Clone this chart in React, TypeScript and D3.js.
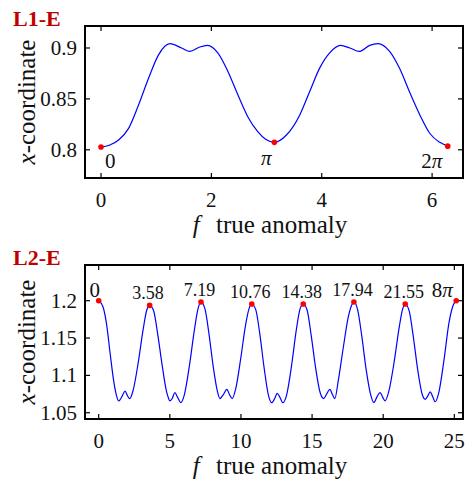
import React from "react";
import * as d3 from "d3";

// ---------- Data: panel L1-E ----------
const f1 = [0, 0.15, 0.32, 0.5, 0.68, 0.86, 1.04, 1.25, 1.46, 1.61, 1.79, 1.93, 2.12, 2.3, 2.48, 2.66, 2.84, 2.99, 3.14, 3.36, 3.6, 3.78, 3.96, 4.14, 4.34, 4.51, 4.68, 4.87, 5.02, 5.23, 5.41, 5.59, 5.78, 5.96, 6.14, 6.28];
const x1 = [0.8027, 0.8045, 0.8096, 0.821, 0.844, 0.87, 0.893, 0.9042, 0.9, 0.8966, 0.901, 0.9026, 0.895, 0.877, 0.854, 0.8325, 0.8178, 0.81, 0.8073, 0.8145, 0.834, 0.857, 0.88, 0.895, 0.9026, 0.9, 0.8966, 0.9026, 0.9042, 0.8966, 0.88, 0.857, 0.834, 0.816, 0.8073, 0.8036];
const mark1F = [0, Math.PI, 2 * Math.PI];
const mark1X = [0.8027, 0.8073, 0.8036];
const mark1Labels = ["0", "π", "2π"];
const xTicks1 = [0, 2, 4, 6];
const yTicks1 = [0.8, 0.85, 0.9];

// ---------- Data: panel L2-E ----------
const f2 = [
  0, 0.3, 0.55, 0.8, 1.05, 1.25, 1.41, 1.63, 1.85, 2.03, 2.18, 2.42, 2.77, 3.12, 3.38, 3.58,
  3.86, 4.15, 4.45, 4.75, 4.87, 5.0, 5.17, 5.35, 5.55, 5.77, 6.02, 6.37, 6.72, 6.98, 7.19,
  7.47, 7.75, 8.05, 8.33, 8.52, 8.75, 9.01, 9.2, 9.38, 9.63, 9.98, 10.33, 10.58, 10.76,
  11.04, 11.33, 11.63, 11.93, 12.17, 12.37, 12.55, 12.74, 12.95, 13.2, 13.55, 13.9, 14.17, 14.38,
  14.65, 14.95, 15.25, 15.58, 15.82, 16.05, 16.25, 16.44, 16.6, 16.85, 17.2, 17.55, 17.78, 17.94,
  18.2, 18.5, 18.8, 19.12, 19.34, 19.57, 19.78, 19.97, 20.13, 20.4, 20.77, 21.13, 21.37, 21.55,
  21.83, 22.13, 22.43, 22.75, 22.95, 23.13, 23.3, 23.48, 23.65, 23.92, 24.27, 24.62, 24.9, 25.13,
];
const x2 = [
  1.2, 1.192, 1.169, 1.13, 1.093, 1.073, 1.0657, 1.0715, 1.079, 1.0724, 1.0688, 1.08, 1.116, 1.161, 1.1875, 1.1938,
  1.1865, 1.155, 1.115, 1.08, 1.0715, 1.066, 1.069, 1.077, 1.0706, 1.0634, 1.074, 1.112, 1.16, 1.189, 1.1983,
  1.189, 1.156, 1.112, 1.08, 1.069, 1.074, 1.0813, 1.074, 1.069, 1.082, 1.122, 1.168, 1.19, 1.1956,
  1.188, 1.155, 1.11, 1.0737, 1.0634, 1.069, 1.076, 1.0706, 1.0634, 1.073, 1.112, 1.162, 1.19, 1.1956,
  1.1875, 1.152, 1.11, 1.076, 1.069, 1.076, 1.0813, 1.074, 1.069, 1.094, 1.138, 1.1786, 1.194, 1.1983,
  1.188, 1.152, 1.108, 1.074, 1.0634, 1.0715, 1.077, 1.0706, 1.066, 1.079, 1.118, 1.165, 1.189, 1.1956,
  1.186, 1.15, 1.107, 1.074, 1.068, 1.0724, 1.078, 1.0715, 1.0647, 1.078, 1.12, 1.17, 1.193, 1.2,
];
const mark2F = [0, 3.58, 7.19, 10.76, 14.38, 17.94, 21.55, 8 * Math.PI];
const mark2X = [1.2, 1.1938, 1.1983, 1.1956, 1.1956, 1.1983, 1.1956, 1.2];
const mark2Labels = ["0", "3.58", "7.19", "10.76", "14.38", "17.94", "21.55", "8π"];
const xTicks2 = [0, 5, 10, 15, 20, 25];
const yTicks2 = [1.05, 1.1, 1.15, 1.2];

const FS = { fontFamily: "Liberation Serif" };
const FSI = { fontFamily: "Liberation Serif", fontStyle: "italic" };

type LabelStyle = { dx: number; dy: number; anchor: string; size: number };

function renderLabel(text: string) {
  if (text.includes("π")) {
    const pre = text.replace("π", "");
    return (
      <>
        {pre && <tspan style={FS}>{pre}</tspan>}
        <tspan style={FSI}>π</tspan>
      </>
    );
  }
  return text;
}

function Panel(props: {
  top: number;
  title: string;
  fs: number[];
  xs: number[];
  xDomain: [number, number];
  yDomain: [number, number];
  xTicks: number[];
  yTicks: number[];
  markF: number[];
  markX: number[];
  markLabels: string[];
  labelStyle: (i: number) => LabelStyle;
  height: number;
}) {
  const left = 85;
  const right = 463;
  const top = props.top;
  const bottom = props.top + props.height;
  const x = d3.scaleLinear().domain(props.xDomain).range([left, right]);
  const y = d3.scaleLinear().domain(props.yDomain).range([bottom, top]);
  const pts = props.fs.map((f, i) => [f, props.xs[i]] as [number, number]);
  const line = d3
    .line<[number, number]>()
    .x((d) => x(d[0]))
    .y((d) => y(d[1]))
    .curve(d3.curveMonotoneX);
  const tl = 5;
  const yFmt = (v: number) => String(+v.toFixed(2));
  return (
    <g>
      <text x={13} y={top} fontWeight="bold" fontSize={22} fill="#c00000" style={FS}>
        {props.title}
      </text>
      <path d={line(pts) || ""} fill="none" stroke="#0000ff" strokeWidth={1.2} />
      {props.xTicks.map((t) => (
        <g key={"xt" + t}>
          <line x1={x(t)} x2={x(t)} y1={bottom} y2={bottom - tl} stroke="#000" strokeWidth={1.2} />
          <line x1={x(t)} x2={x(t)} y1={top} y2={top + tl} stroke="#000" strokeWidth={1.2} />
          <text x={x(t)} y={bottom + 29} textAnchor="middle" fontSize={21} fill="#111" style={FS}>
            {t}
          </text>
        </g>
      ))}
      {props.yTicks.map((t) => (
        <g key={"yt" + t}>
          <line x1={left} x2={left + tl} y1={y(t)} y2={y(t)} stroke="#000" strokeWidth={1.2} />
          <line x1={right} x2={right - tl} y1={y(t)} y2={y(t)} stroke="#000" strokeWidth={1.2} />
          <text x={77} y={y(t) + 7} textAnchor="end" fontSize={21} fill="#111" style={FS}>
            {yFmt(t)}
          </text>
        </g>
      ))}
      <rect x={left} y={top} width={right - left} height={bottom - top} fill="none" stroke="#000" strokeWidth={2} />
      {props.markF.map((f, i) => {
        const s = props.labelStyle(i);
        return (
          <g key={"m" + i}>
            <circle cx={x(f)} cy={y(props.markX[i])} r={2.8} fill="#ff0000" />
            <text
              x={x(f) + s.dx}
              y={y(props.markX[i]) + s.dy}
              textAnchor={s.anchor}
              fontSize={s.size}
              fill="#111"
              style={FS}
            >
              {renderLabel(props.markLabels[i])}
            </text>
          </g>
        );
      })}
      <text
        transform={`translate(35,${(top + bottom) / 2}) rotate(-90)`}
        textAnchor="middle"
        fontSize={25}
        fill="#111"
        style={FS}
      >
        <tspan style={FSI}>x</tspan>
        <tspan style={FS}>-coordinate</tspan>
      </text>
      <text x={270} y={bottom + 55} textAnchor="middle" fontSize={25} fill="#111" style={FS}>
        <tspan style={FSI}>f</tspan>
        <tspan dx={10} style={FS}> true anomaly</tspan>
      </text>
    </g>
  );
}

export default function App() {
  const style1 = (i: number): LabelStyle => {
    if (i === 0) return { dx: 4, dy: 21, anchor: "start", size: 21 };
    if (i === 1) return { dx: -8, dy: 23, anchor: "middle", size: 21 };
    return { dx: -16, dy: 22, anchor: "middle", size: 21 };
  };
  const style2 = (i: number): LabelStyle => {
    if (i === 0) return { dx: -4, dy: -4, anchor: "middle", size: 21 };
    if (i === mark2F.length - 1) return { dx: -14, dy: -4, anchor: "middle", size: 21 };
    return { dx: -1.5, dy: -6, anchor: "middle", size: 18 };
  };
  return (
    <svg
      width={471}
      height={480}
      style={{ position: "absolute", left: 0, top: 0, background: "#fff" }}
    >
      <Panel
        top={26}
        height={152}
        title="L1-E"
        fs={f1}
        xs={x1}
        xDomain={[-0.29, 6.56]}
        yDomain={[0.7723, 0.9216]}
        xTicks={xTicks1}
        yTicks={yTicks1}
        markF={mark1F}
        markX={mark1X}
        markLabels={mark1Labels}
        labelStyle={style1}
      />
      <Panel
        top={265}
        height={154}
        title="L2-E"
        fs={f2}
        xs={x2}
        xDomain={[-0.963, 25.61]}
        yDomain={[1.0416, 1.2478]}
        xTicks={xTicks2}
        yTicks={yTicks2}
        markF={mark2F}
        markX={mark2X}
        markLabels={mark2Labels}
        labelStyle={style2}
      />
    </svg>
  );
}
